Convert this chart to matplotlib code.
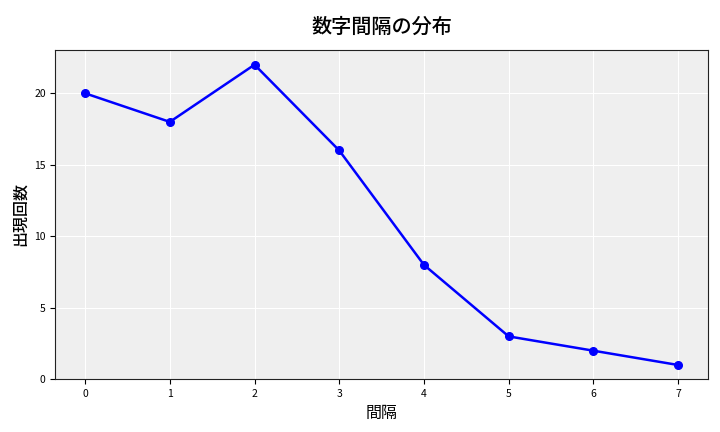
import matplotlib
matplotlib.use('Agg')
import matplotlib.pyplot as plt

plt.rcParams['font.family'] = ['Noto Sans CJK JP', 'DejaVu Sans']

intervals = [0, 1, 2, 3, 4, 5, 6, 7]
counts = [20, 18, 22, 16, 8, 3, 2, 1]

fig, ax = plt.subplots(figsize=(7.2, 4.32), dpi=100)
ax.set_facecolor('#efefef')
ax.plot(intervals, counts, color='blue', marker='o', linewidth=1.8, markersize=5.5)
ax.grid(True, color='white', linewidth=0.8)
ax.set_axisbelow(True)
ax.set_ylim(bottom=0)
ax.set_title('数字間隔の分布', fontsize=14.5, fontweight='medium', pad=12)
ax.set_xlabel('間隔', fontsize=11.5)
ax.set_ylabel('出現回数', fontsize=11.5, fontweight='medium')
ax.tick_params(labelsize=7.5)
for s in ax.spines.values():
    s.set_color('#222222')
fig.subplots_adjust(left=0.077, right=0.983, top=0.885, bottom=0.122)
fig.savefig('out.png', dpi=100)
